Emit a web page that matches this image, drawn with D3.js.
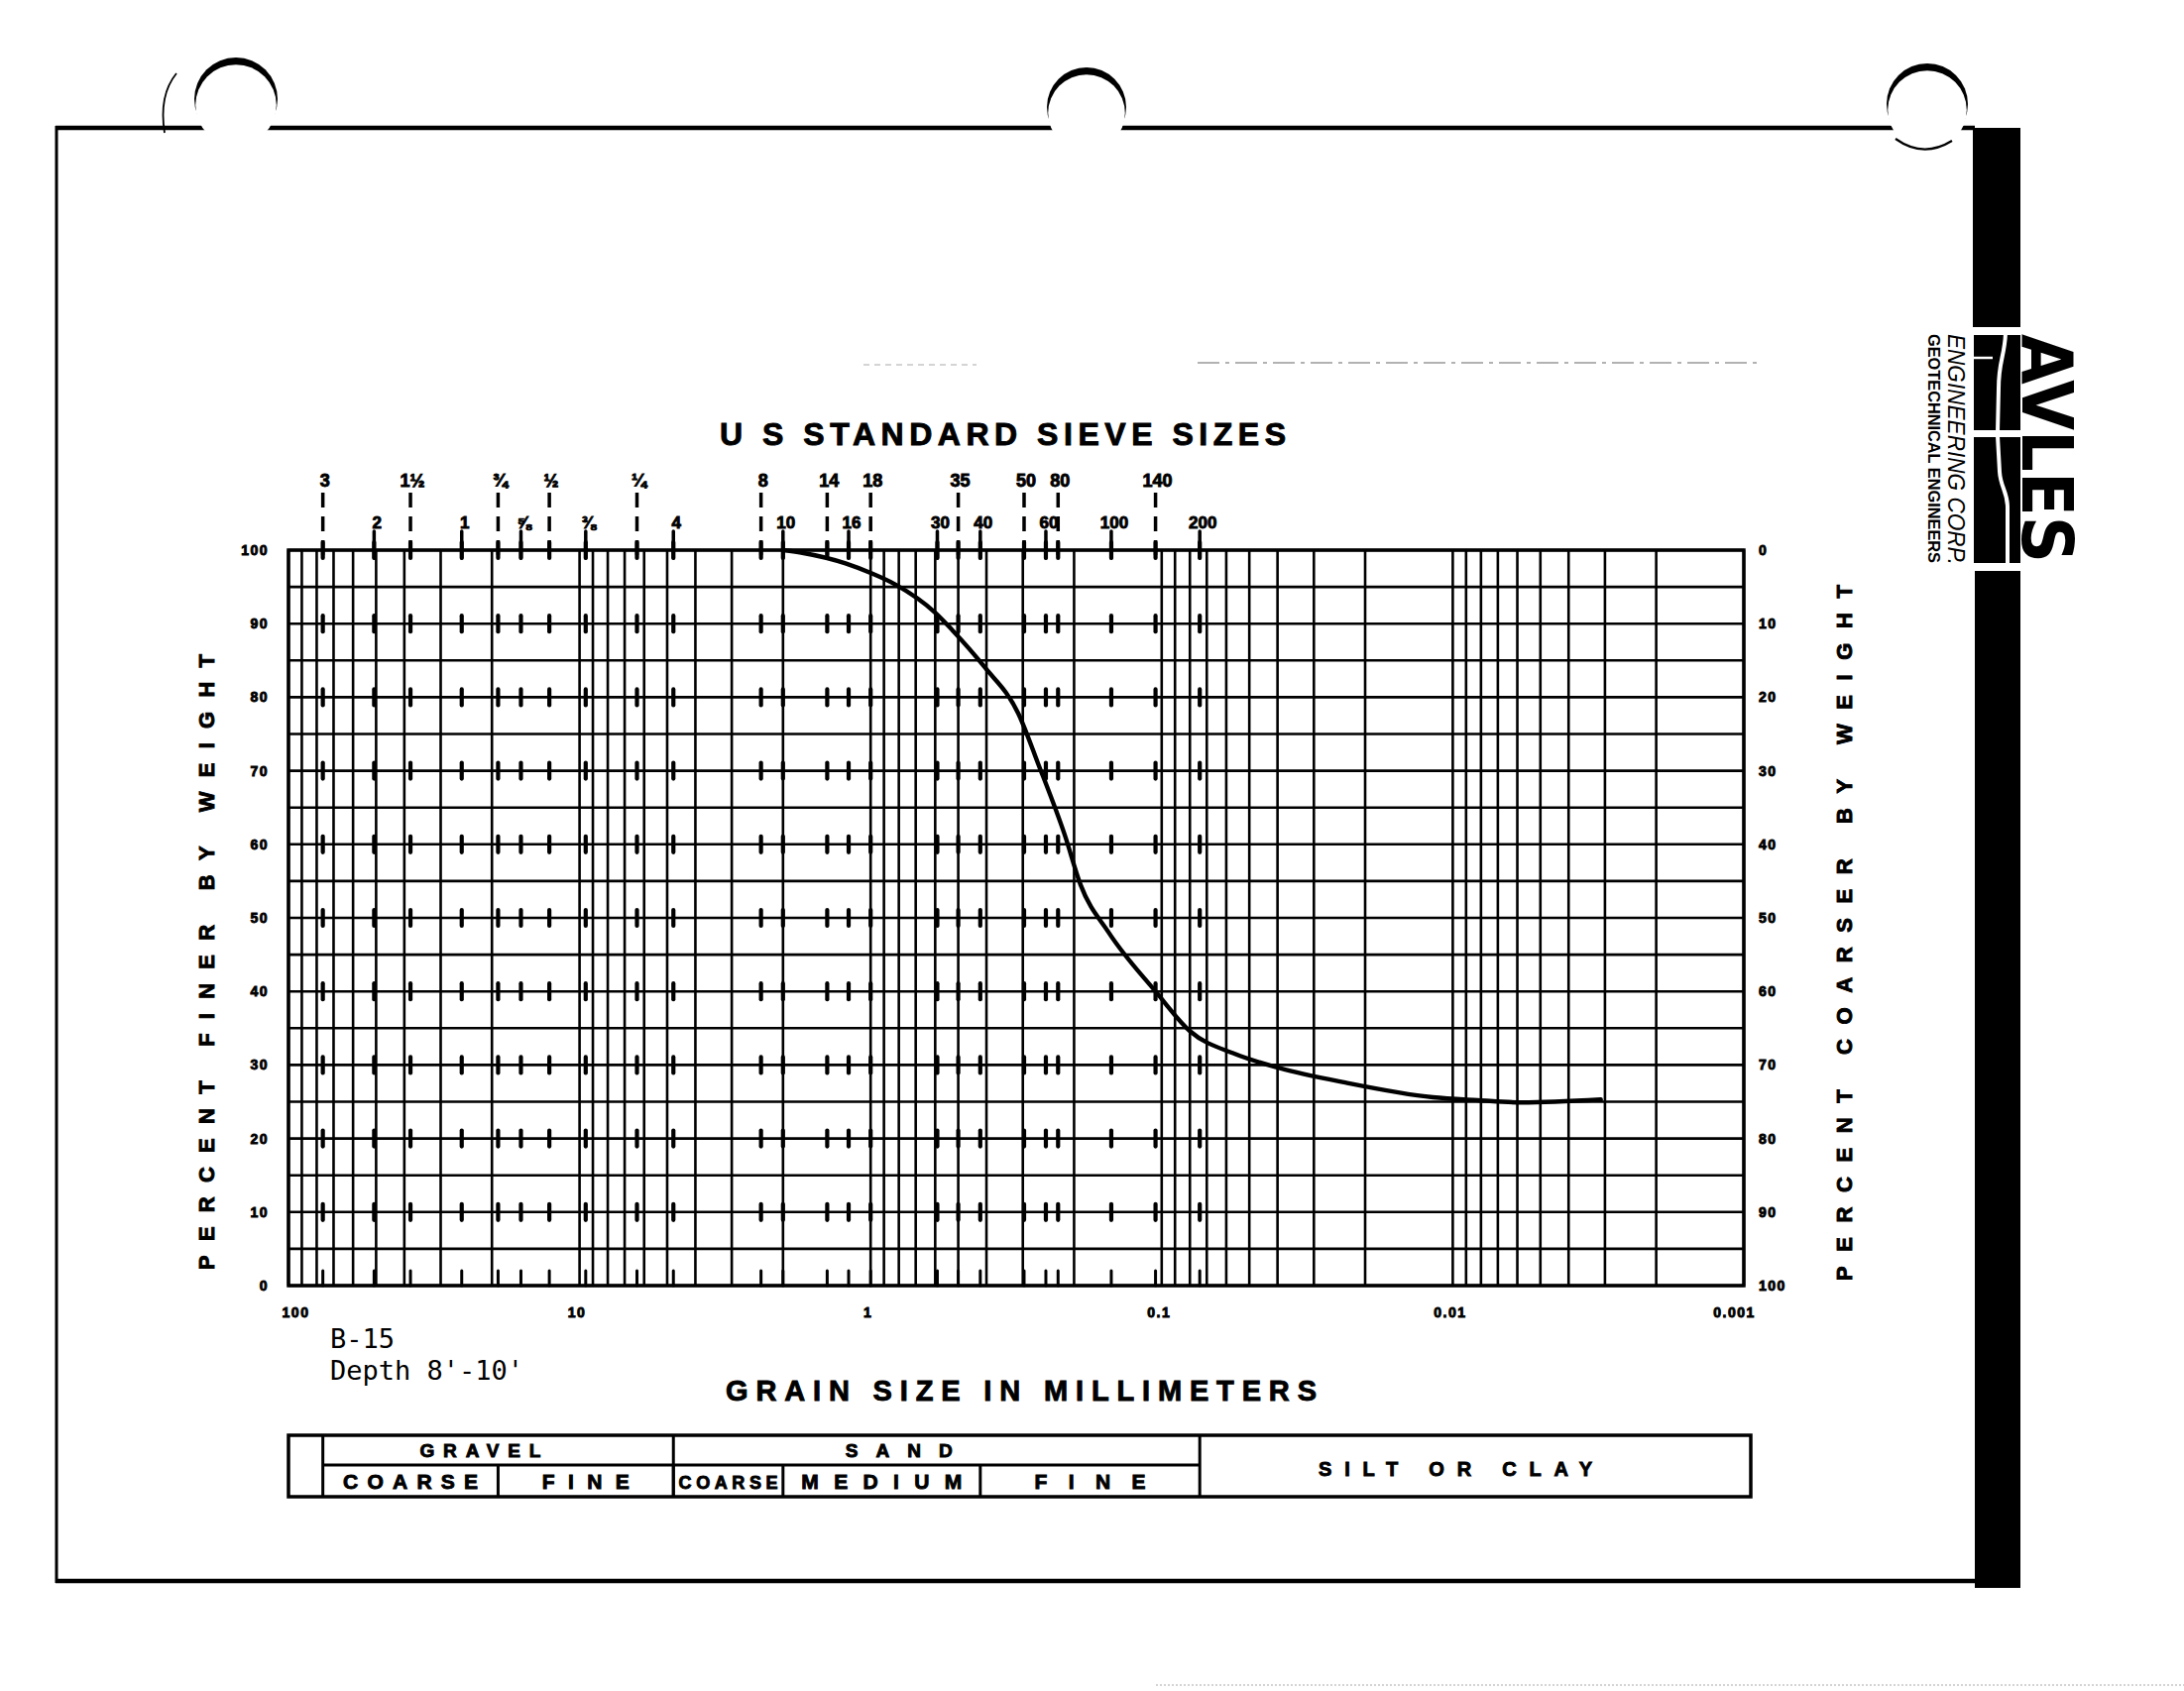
<!DOCTYPE html>
<html><head><meta charset="utf-8">
<script src="https://cdn.jsdelivr.net/npm/d3@7"></script>
<style>body{margin:0;background:#fff}svg{display:block}</style>
</head><body>
<svg id="c" width="2203" height="1706"></svg>
<script>
// ---------- data ----------
const grainSizeMm   = [2.0, 1.7, 1.22, 1.0, 0.82, 0.60, 0.526, 0.406, 0.311, 0.266, 0.215, 0.19, 0.152, 0.105, 0.08, 0.056, 0.0395, 0.0234, 0.0117, 0.0082, 0.0058, 0.0031];
const percentFiner  = [100, 99.6, 98.2, 96.9, 95.3, 91.5, 89.2, 84.1, 77.8, 71.0, 61.2, 54.5, 48.0, 40.0, 34.6, 31.5, 29.6, 27.6, 25.6, 25.2, 24.9, 25.3];

const sieveUpperLabels = ["3", "1½", "¾", "½", "¼", "8", "14", "18", "35", "50", "80", "140"];
const sieveUpperSizes  = [76.2, 38.1, 19.05, 12.7, 6.35, 2.38, 1.41, 1.0, 0.50, 0.297, 0.227, 0.105];
const sieveLowerLabels = ["2", "1", "⅝", "⅜", "4", "10", "16", "30", "40", "60", "100", "200"];
const sieveLowerSizes  = [50.8, 25.4, 15.9, 9.525, 4.76, 2.0, 1.19, 0.59, 0.42, 0.25, 0.149, 0.074];

const xTickValues = [100, 10, 1, 0.1, 0.01, 0.001];
const xTickLabels = ["100", "10", "1", "0.1", "0.01", "0.001"];
const yTickValues = [0, 10, 20, 30, 40, 50, 60, 70, 80, 90, 100];
const yGridValues = [0, 5, 10, 15, 20, 25, 30, 35, 40, 45, 50, 55, 60, 65, 70, 75, 80, 85, 90, 95, 100];
const gridDecades = [0.001, 0.01, 0.1, 1, 10];
const gridMultipliers = [1, 2, 3, 4, 5, 6, 7, 8, 9];

// soil classification bar
const classTopNames  = ["GRAVEL", "SAND"];
const classTopBounds = [[76.2, 4.76], [4.76, 0.074]];
const classSubNames  = ["COARSE", "FINE", "COARSE", "MEDIUM", "FINE"];
const classSubBounds = [[76.2, 19.05], [19.05, 4.76], [4.76, 2.0], [2.0, 0.42], [0.42, 0.074]];
const classFinesName = "SILT OR CLAY";
const classFinesFrom = 0.074;

const sampleLabel = "B-15";
const depthLabel  = "Depth 8'-10'";

// ---------- drawing ----------
const svg = d3.select("#c");
const ink = "#000";
const bold = "'Liberation Sans', Arial, sans-serif";
const plot = {left: 291, right: 1759, top: 555, bottom: 1297};

const x = d3.scaleLog().domain([100, 0.001]).range([plot.left, plot.right]);
const y = d3.scaleLinear().domain([0, 100]).range([plot.bottom, plot.top]);

svg.append("rect").attr("width", 2203).attr("height", 1706).attr("fill", "#fff");

// faint scan lines
svg.append("line").attr("x1", 871).attr("x2", 985).attr("y1", 368).attr("y2", 368)
  .attr("stroke", "#aaa").attr("stroke-width", 1.2).attr("stroke-dasharray", "6,5");
svg.append("line").attr("x1", 1208).attr("x2", 1777).attr("y1", 366).attr("y2", 366)
  .attr("stroke", "#999").attr("stroke-width", 1.4).attr("stroke-dasharray", "22,6,4,6");
svg.append("line").attr("x1", 1166).attr("x2", 2203).attr("y1", 1700).attr("y2", 1700)
  .attr("stroke", "#aaa").attr("stroke-width", 1.2).attr("stroke-dasharray", "2,2");

// page frame
const frame = svg.append("g");
frame.append("line").attr("x1", 56).attr("y1", 129).attr("x2", 1992).attr("y2", 129)
  .attr("stroke", ink).attr("stroke-width", 4.5);
frame.append("line").attr("x1", 57).attr("y1", 127).attr("x2", 57).attr("y2", 1597)
  .attr("stroke", ink).attr("stroke-width", 3);
frame.append("line").attr("x1", 56).attr("y1", 1595).attr("x2", 1994).attr("y2", 1595)
  .attr("stroke", ink).attr("stroke-width", 4.5);

// binder holes
const holes = [{cx: 238, cy: 100, r: 42}, {cx: 1096, cy: 108, r: 40}, {cx: 1944, cy: 105, r: 41}];
holes.forEach(h => {
  frame.append("circle").attr("cx", h.cx).attr("cy", h.cy).attr("r", h.r).attr("fill", ink);
  frame.append("circle").attr("cx", h.cx).attr("cy", h.cy + 6).attr("r", h.r - 1.2).attr("fill", "#fff");
});
frame.append("path").attr("d", "M178 74 Q160 96 166 134").attr("fill", "none").attr("stroke", ink).attr("stroke-width", 1.8);
frame.append("path").attr("d", "M1912 140 Q1940 160 1969 142").attr("fill", "none").attr("stroke", ink).attr("stroke-width", 2.2);

// right black band with logo
const band = svg.append("g");
band.append("rect").attr("x", 1990).attr("y", 129).attr("width", 48).attr("height", 201).attr("fill", ink);
band.append("rect").attr("x", 1991).attr("y", 338).attr("width", 47).attr("height", 96).attr("fill", ink);
band.append("rect").attr("x", 1991).attr("y", 441).attr("width", 47).attr("height", 127).attr("fill", ink);
band.append("rect").attr("x", 1992).attr("y", 576).attr("width", 46).attr("height", 1026).attr("fill", ink);
band.append("path").attr("d", "M2023 336 C2022 360 2016 364 2016 392 L2015 436")
  .attr("fill", "none").attr("stroke", "#fff").attr("stroke-width", 4);
band.append("path").attr("d", "M2015 440 L2017 476 C2018 492 2025 496 2025 512 L2025 570")
  .attr("fill", "none").attr("stroke", "#fff").attr("stroke-width", 4);
band.append("path").attr("d", "M1991 361 L2010 361").attr("stroke", "#fff").attr("stroke-width", 2.5);

band.append("text").attr("transform", "translate(2040,337) rotate(90)")
  .attr("font-family", "'DejaVu Sans', sans-serif").attr("font-weight", "bold").attr("font-size", 71)
  .attr("textLength", 231).attr("lengthAdjust", "spacingAndGlyphs").attr("fill", ink).text("AVLES");
band.append("text").attr("transform", "translate(1965,337) rotate(90)")
  .attr("font-family", bold).attr("font-style", "italic").attr("font-size", 23)
  .attr("textLength", 233).attr("lengthAdjust", "spacingAndGlyphs").attr("fill", ink).text("ENGINEERING CORP.");
band.append("text").attr("transform", "translate(1945,337) rotate(90)")
  .attr("font-family", bold).attr("font-weight", "bold").attr("font-size", 17)
  .attr("textLength", 231).attr("lengthAdjust", "spacingAndGlyphs").attr("fill", ink).text("GEOTECHNICAL ENGINEERS");

// ---------- grid ----------
const grid = svg.append("g");
const vGrid = [100];
gridDecades.forEach(dec => gridMultipliers.forEach(m => vGrid.push(+(m * dec).toPrecision(3))));
grid.selectAll("line.v").data(vGrid).join("line")
  .attr("x1", d => x(d)).attr("x2", d => x(d)).attr("y1", plot.top).attr("y2", plot.bottom)
  .attr("stroke", ink).attr("stroke-width", 2.6);
grid.selectAll("line.h").data(yGridValues).join("line")
  .attr("x1", plot.left).attr("x2", plot.right).attr("y1", d => y(d)).attr("y2", d => y(d))
  .attr("stroke", ink).attr("stroke-width", 2.6);
grid.append("rect").attr("x", plot.left).attr("y", plot.top)
  .attr("width", plot.right - plot.left).attr("height", plot.bottom - plot.top)
  .attr("fill", "none").attr("stroke", ink).attr("stroke-width", 3.5);

// sieve marks
const allSieves = sieveUpperSizes.concat(sieveLowerSizes);
const marks = svg.append("g").attr("stroke", ink).attr("stroke-linecap", "round");
allSieves.forEach(s => {
  yTickValues.filter(p => p > 0).forEach(p => {
    marks.append("line").attr("x1", x(s)).attr("x2", x(s)).attr("y1", y(p) - 8).attr("y2", y(p) + 8).attr("stroke-width", 4.2);
  });
  marks.append("line").attr("x1", x(s)).attr("x2", x(s)).attr("y1", y(0) - 15).attr("y2", y(0)).attr("stroke-width", 3);
});
sieveUpperSizes.forEach(s => {
  marks.append("line").attr("x1", x(s)).attr("x2", x(s)).attr("y1", plot.top - 58).attr("y2", plot.top + 8)
    .attr("stroke-width", 3.5).attr("stroke-linecap", "butt").attr("stroke-dasharray", "15,9");
});
sieveLowerSizes.forEach(s => {
  marks.append("line").attr("x1", x(s)).attr("x2", x(s)).attr("y1", plot.top - 19).attr("y2", plot.top + 8)
    .attr("stroke-width", 3.5);
});

const heavy = sel => sel.attr("stroke", ink).attr("stroke-width", 0.9).attr("paint-order", "stroke");
const lab = svg.append("g").attr("font-family", bold).attr("font-weight", "bold").attr("fill", ink).attr("text-anchor", "middle");
sieveUpperLabels.forEach((t, i) => {
  lab.append("text").attr("x", x(sieveUpperSizes[i]) + 2).attr("y", plot.top - 64).attr("font-size", 18).text(t);
});
sieveLowerLabels.forEach((t, i) => {
  lab.append("text").attr("x", x(sieveLowerSizes[i]) + 3).attr("y", plot.top - 22).attr("font-size", 17).text(t);
});
heavy(lab);

// ---------- axes ----------
const axB = svg.append("g").attr("transform", `translate(0,${plot.bottom})`)
  .call(d3.axisBottom(x).tickValues(xTickValues).tickFormat((d, i) => xTickLabels[i]).tickSize(0).tickPadding(22));
const axL = svg.append("g").attr("transform", `translate(${plot.left},0)`)
  .call(d3.axisLeft(y).tickValues(yTickValues).tickFormat(d3.format("d")).tickSize(0).tickPadding(20));
const axR = svg.append("g").attr("transform", `translate(${plot.right},0)`)
  .call(d3.axisRight(y).tickValues(yTickValues).tickFormat(d => String(100 - d)).tickSize(0).tickPadding(15));
[axB, axL, axR].forEach(a => {
  a.select(".domain").remove();
  heavy(a.selectAll("text").attr("font-family", bold).attr("font-weight", "bold").attr("font-size", 14)
    .attr("letter-spacing", 1.5).attr("fill", ink));
});
axB.selectAll(".tick text").attr("dx", (d, i) => i === 0 ? 7 : (i === xTickValues.length - 1 ? -10 : -3));

// ---------- curve ----------
const pts = grainSizeMm.map((d, i) => ({d, p: percentFiner[i]}));
svg.append("path").datum(pts)
  .attr("d", d3.line().x(d => x(d.d)).y(d => y(d.p)).curve(d3.curveMonotoneX))
  .attr("fill", "none").attr("stroke", ink).attr("stroke-width", 4.4).attr("stroke-linecap", "round");

// ---------- titles ----------
const t = svg.append("g").attr("font-family", bold).attr("font-weight", "bold").attr("fill", ink);
t.append("text").attr("x", 726).attr("y", 449).attr("font-size", 32)
  .attr("textLength", 571).attr("lengthAdjust", "spacing").text("U S  STANDARD  SIEVE  SIZES");
t.append("text").attr("x", 732).attr("y", 1413).attr("font-size", 29)
  .attr("textLength", 596).attr("lengthAdjust", "spacing").text("GRAIN  SIZE  IN  MILLIMETERS");
t.append("text").attr("transform", "translate(216,1281) rotate(-90)").attr("font-size", 22)
  .attr("textLength", 621).attr("lengthAdjust", "spacing").text("PERCENT   FINER   BY   WEIGHT");
t.append("text").attr("transform", "translate(1868,1292) rotate(-90)").attr("font-size", 22)
  .attr("textLength", 702).attr("lengthAdjust", "spacing").text("PERCENT   COARSER   BY   WEIGHT");
heavy(t);

const mono = "'DejaVu Sans Mono', monospace";
svg.append("text").attr("x", 333).attr("y", 1360).attr("font-family", mono).attr("font-size", 27).attr("fill", ink).text(sampleLabel);
svg.append("text").attr("x", 333).attr("y", 1392).attr("font-family", mono).attr("font-size", 27).attr("fill", ink).text(depthLabel);

// ---------- classification bar ----------
const bar = {top: 1448, mid: 1478, bottom: 1510, left: plot.left, right: plot.right + 7};
const cb = svg.append("g");
cb.append("rect").attr("x", bar.left).attr("y", bar.top).attr("width", bar.right - bar.left)
  .attr("height", bar.bottom - bar.top).attr("fill", "none").attr("stroke", ink).attr("stroke-width", 3.5);
cb.append("line").attr("x1", x(classTopBounds[0][0])).attr("x2", x(classFinesFrom))
  .attr("y1", bar.mid).attr("y2", bar.mid).attr("stroke", ink).attr("stroke-width", 3);
[classTopBounds[0][0], classTopBounds[0][1], classFinesFrom].forEach(v => {
  cb.append("line").attr("x1", x(v)).attr("x2", x(v)).attr("y1", bar.top).attr("y2", bar.bottom).attr("stroke", ink).attr("stroke-width", 3);
});
classSubBounds.slice(0, -1).forEach(b => {
  cb.append("line").attr("x1", x(b[1])).attr("x2", x(b[1])).attr("y1", bar.mid).attr("y2", bar.bottom).attr("stroke", ink).attr("stroke-width", 3);
});
const ct = cb.append("g").attr("font-family", bold).attr("font-weight", "bold").attr("fill", ink).attr("text-anchor", "middle");
const topLens = [122, 108];
classTopNames.forEach((n, i) => {
  const cx = (x(classTopBounds[i][0]) + x(classTopBounds[i][1])) / 2 - (i === 0 ? 18 : 38);
  ct.append("text").attr("x", cx).attr("y", bar.mid - 8).attr("font-size", 19)
    .attr("textLength", topLens[i]).attr("lengthAdjust", "spacing").text(n);
});
const subLens = [136, 88, 100, 162, 112];
classSubNames.forEach((n, i) => {
  const cx = (x(classSubBounds[i][0]) + x(classSubBounds[i][1])) / 2;
  ct.append("text").attr("x", cx).attr("y", bar.bottom - 8).attr("font-size", i === 2 ? 18 : 21)
    .attr("textLength", subLens[i]).attr("lengthAdjust", "spacing").text(n);
});
ct.append("text").attr("x", (x(classFinesFrom) + bar.right) / 2 - 20).attr("y", 1489).attr("font-size", 20)
  .attr("textLength", 276).attr("lengthAdjust", "spacing").text(classFinesName);
heavy(ct);
</script>
</body></html>
